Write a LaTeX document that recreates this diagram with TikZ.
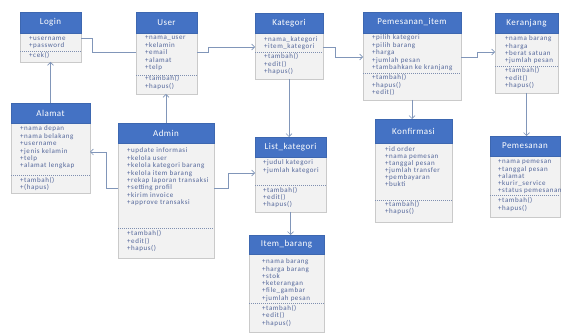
\documentclass[tikz,border=0pt]{standalone}
\usepackage{fontspec}
\setmainfont{Carlito}
\newfontfamily\bodyfont[LetterSpace=8]{Carlito}
\newfontfamily\hdrfont[LetterSpace=5]{Carlito}
\usetikzlibrary{arrows.meta}
\definecolor{hdrblue}{HTML}{4472C4}
\definecolor{bodyfill}{HTML}{F2F2F2}
\definecolor{bodyline}{HTML}{CACACA}
\definecolor{txtc}{HTML}{53669A}
\definecolor{sepc}{HTML}{7F8FB0}
\definecolor{connc}{HTML}{8196B9}
\tikzset{
  hdr/.style={draw=hdrblue!90!black, fill=hdrblue, text=white, font=\hdrfont\fontsize{9}{10}\selectfont, inner sep=0pt, outer sep=0pt, line width=0.4pt},
  bodyb/.style={draw=bodyline, fill=bodyfill, inner sep=0pt, outer sep=0pt, line width=0.5pt},
  txt/.style={text=txtc, font=\bodyfont\fontsize{7}{8}\selectfont, inner sep=0pt},
  sepl/.style={draw=sepc, dash pattern=on 1pt off 1pt, line width=0.45pt},
  conn/.style={draw=connc, line width=0.7pt, -{Straight Barb[length=3pt,width=6pt]}},
  connn/.style={draw=connc, line width=0.7pt},
}
\newcommand\umlcls[7]{%
  \node[bodyb, anchor=north west, minimum width={(#3-#2)*1pt}, minimum height={(#6-#5)*1pt}] (#1b) at (#2,#5) {};
  \node[hdr, anchor=north west, minimum width={(#3-#2)*1pt}, minimum height={(#5-#4)*1pt}] (#1) at (#2,#4) {#7};}
\newcommand\umllines[5]{%
  \foreach \t [count=\i from 0] in {#5} {\node[txt, anchor=base west] (#1-\i) at (#2, #3+\i*#4) {\t};}}
\newcommand\umlsep[2]{\draw[sepl] (#1b.west |- 0,#2) -- (#1b.east |- 0,#2);}
\begin{document}
\begin{tikzpicture}[x=1pt,y=-1pt]
\useasboundingbox (0,0) rectangle (563,334);
\fill[white] (0,0) rectangle (563,334);

% Login
\umlcls{login}{20}{81}{12}{33}{62}{Login}
\umllines{logina}{29}{41}{7}{+username,+password}
\umlsep{login}{51}
\umllines{loginm}{29}{58}{7}{+cek()}

% User
\umlcls{user}{136}{197}{12}{33}{94}{User}
\umllines{usera}{145}{40}{7.5}{+nama\_user,+kelamin,+email,+alamat,+telp}
\umlsep{user}{75}
\umllines{userm}{145}{81}{7.5}{+tambah(),+hapus()}

% Kategori
\umlcls{kategori}{255}{323}{13}{33}{79}{Kategori}
\umllines{kategoria}{264}{42}{7}{+nama\_kategori,+item\_kategori}
\umlsep{kategori}{52}
\umllines{kategorim}{264}{59}{7.5}{+tambah(),+edit(),+hapus()}

% Pemesanan_item
\umlcls{pitem}{363}{461}{12}{33}{100}{Pemesanan\_item}
\umllines{pitema}{372}{40}{7.5}{+pilih kategori,+pilih barang,+harga,+jumlah pesan,+tambahkan ke kranjang}
\umlsep{pitem}{73}
\umllines{pitemm}{372}{80}{7.5}{+tambah(),+hapus(),+edit()}

% Keranjang
\umlcls{keranj}{495}{558}{13}{33}{93}{Keranjang}
\umllines{keranja}{505}{41}{7.3}{+nama barang,+harga,+berat satuan,+jumlah pesan}
\umlsep{keranj}{66}
\umllines{keranjm}{505}{73}{7.5}{+tambah(),+edit(),+hapus()}

% Alamat
\umlcls{alamat}{11}{90}{103}{123}{193}{Alamat}
\umllines{alamata}{20}{131}{7.4}{+nama depan,+nama belakang,+username,+jenis kelamin,+telp,+alamat lengkap}
\umlsep{alamat}{175}
\umllines{alamatm}{20}{183}{7}{+tambah(),+(hapus)}

% Admin
\umlcls{admin}{118}{214}{123}{143}{258}{Admin}
\umllines{admina}{127}{153}{7.4}{+update informasi,+kelola user,+kelola kategori barang,+kelola item barang,+rekap laporan transaksi,+setting profil,+kirim invoice,+approve transaksi}
\umlsep{admin}{228}
\umllines{adminm}{127}{236}{7.5}{+tambah(),+edit(),+hapus()}

% List_kategori
\umlcls{listk}{255}{326}{137}{157}{212}{List\_kategori}
\umllines{listka}{263}{165}{8}{+judul kategori,+jumlah kategori}
\umlsep{listk}{185}
\umllines{listkm}{263}{193}{7}{+tambah(),+edit(),+hapus()}

% Konfirmasi
\umlcls{konf}{375}{452}{119}{143}{222}{Konfirmasi}
\umllines{konfa}{385}{152}{7}{+id order,+nama pemesan,+tanggal pesan,+jumlah transfer,+pembayaran,+bukti}
\umlsep{konf}{200}
\umllines{konfm}{385}{207}{7}{+tambah(),+hapus()}

% Pemesanan
\umlcls{pesan}{490}{560}{136}{156}{217}{Pemesanan}
\umllines{pesana}{498}{164}{7.2}{+nama pemesan,+tanggal pesan,+alamat,+kurir\_service,+status pemesanan}
\umlsep{pesan}{195}
\umllines{pesanm}{498}{203}{8}{+tambah(),+hapus()}

% Item_barang
\umlcls{item}{249}{324}{235}{254}{332}{Item\_barang}
\umllines{itema}{262}{264}{7.2}{+nama barang,+harga barang,+stok,+keterangan,+file\_gambar,+jumlah pesan}
\umlsep{item}{303}
\umllines{itemm}{262}{310}{7.5}{+tambah(),+edit(),+hapus()}

% connectors
\draw[connn] (loginb.east |- 0,38) -- ++(11,0) |- (userb.west |- 0,52);
\draw[conn] (alamat.north) -- (alamat.north |- loginb.south);
\draw[conn] (admin.north) -- (admin.north |- userb.south);
\draw[conn] (userb.east |- 0,52) -- ++(11,0) |- (kategorib.west |- 0,47);
\draw[conn] (kategorib.east |- 0,47) -- ++(12,0) |- (pitemb.west |- 0,57);
\draw[conn] (kategorib.south) -- (kategorib.south |- listk.north);
\draw[conn] (listkb.south) -- (listkb.south |- item.north);
\draw[conn] (adminb.west |- 0,188) -- ++(-12,0) |- (alamatb.east |- 0,152);
\draw[conn] (adminb.east |- 0,188) -- ++(14,0) |- (listkb.west |- 0,173);
\draw[conn] (pitemb.south) -- (pitemb.south |- konf.north);
\draw[conn] (pitemb.east |- 0,57) -- ++(16,0) |- (keranjb.west |- 0,52);
\draw[conn] (keranjb.south) -- (keranjb.south |- pesan.north);
\end{tikzpicture}
\end{document}
